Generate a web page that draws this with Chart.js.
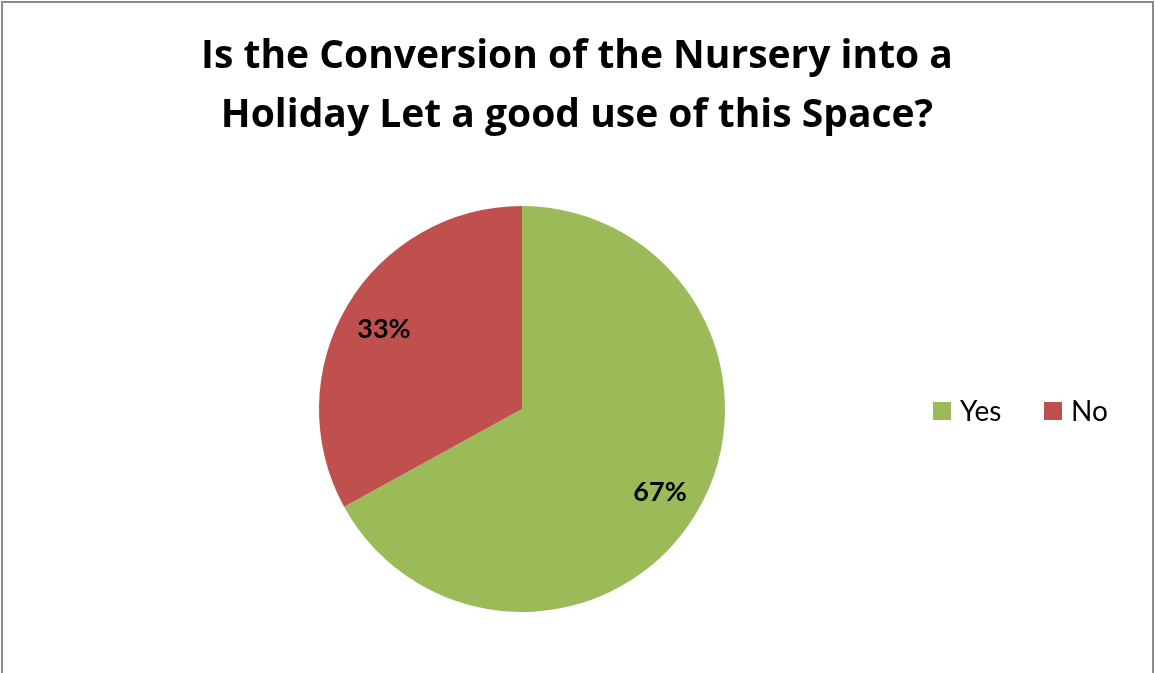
<!DOCTYPE html>
<html>
<head>
<meta charset="utf-8">
<script src="https://cdn.jsdelivr.net/npm/chart.js@4/dist/chart.umd.min.js"></script>
<style>
  html, body { margin: 0; padding: 0; background: #fff; }
  canvas { display: block; }
</style>
</head>
<body>
<canvas id="c" width="1155" height="673"></canvas>
<script>
const titleLines = ["Is the Conversion of the Nursery into a", "Holiday Let a good use of this Space?"];
const categories = ["Yes", "No"];
const values = [67, 33];
const colors = ["#9BBB59", "#C0504D"];

const FONT = "Lato, 'Liberation Sans', sans-serif";
const TITLE_FONT = "'Open Sans', Lato, sans-serif";

const framePlugin = {
  id: 'frame',
  beforeDraw(chart) {
    const ctx = chart.ctx;
    ctx.save();
    ctx.fillStyle = '#fff';
    ctx.fillRect(0, 0, chart.width, chart.height);
    ctx.strokeStyle = '#8c8c8c';
    ctx.lineWidth = 2;
    ctx.beginPath();
    ctx.moveTo(2, chart.height);
    ctx.lineTo(2, 2);
    ctx.lineTo(chart.width - 2, 2);
    ctx.lineTo(chart.width - 2, chart.height);
    ctx.stroke();
    ctx.restore();
  }
};

const titlePlugin = {
  id: 'titleText',
  afterDraw(chart) {
    const ctx = chart.ctx;
    ctx.save();
    ctx.font = "bold 39px " + TITLE_FONT;
    ctx.fillStyle = "#000";
    ctx.textAlign = "center";
    ctx.textBaseline = "alphabetic";
    const baselines = [68, 127];
    const widths = [757, 721];
    titleLines.forEach((t, i) => ctx.fillText(t, 577, baselines[i], widths[i]));
    ctx.restore();
  }
};

const labelPlugin = {
  id: 'sliceLabels',
  afterDatasetsDraw(chart) {
    const ctx = chart.ctx;
    const meta = chart.getDatasetMeta(0);
    const total = values.reduce((a, b) => a + b, 0);
    ctx.save();
    ctx.font = "bold 27px " + FONT;
    ctx.fillStyle = "#000";
    ctx.textAlign = "center";
    ctx.textBaseline = "middle";
    meta.data.forEach((arc, i) => {
      const p = arc.getProps(['x', 'y', 'startAngle', 'endAngle', 'outerRadius'], true);
      const mid = (p.startAngle + p.endAngle) / 2;
      const r = p.outerRadius * 0.79;
      const pct = Math.round(values[i] / total * 100) + "%";
      ctx.fillText(pct, p.x + Math.cos(mid) * r, p.y + Math.sin(mid) * r + 2);
    });
    ctx.restore();
  }
};

const legendPlugin = {
  id: 'customLegend',
  afterDraw(chart) {
    const ctx = chart.ctx;
    ctx.save();
    ctx.font = "28px " + FONT;
    ctx.textBaseline = "middle";
    ctx.textAlign = "left";
    let x = 933;
    const y = 411;
    categories.forEach((c, i) => {
      ctx.fillStyle = colors[i];
      ctx.fillRect(x, y - 9, 18, 18);
      ctx.fillStyle = "#000";
      ctx.fillText(c, x + 27, y + 1);
      x += 111;
    });
    ctx.restore();
  }
};

new Chart(document.getElementById('c'), {
  type: 'pie',
  data: {
    labels: categories,
    datasets: [{ data: values, backgroundColor: colors, borderWidth: 0 }]
  },
  options: {
    responsive: false,
    animation: false,
    layout: { padding: { left: 319, right: 430, top: 206, bottom: 61 } },
    plugins: {
      legend: { display: false },
      tooltip: { enabled: false },
      title: { display: false }
    }
  },
  plugins: [framePlugin, labelPlugin, titlePlugin, legendPlugin]
});
</script>
</body>
</html>
